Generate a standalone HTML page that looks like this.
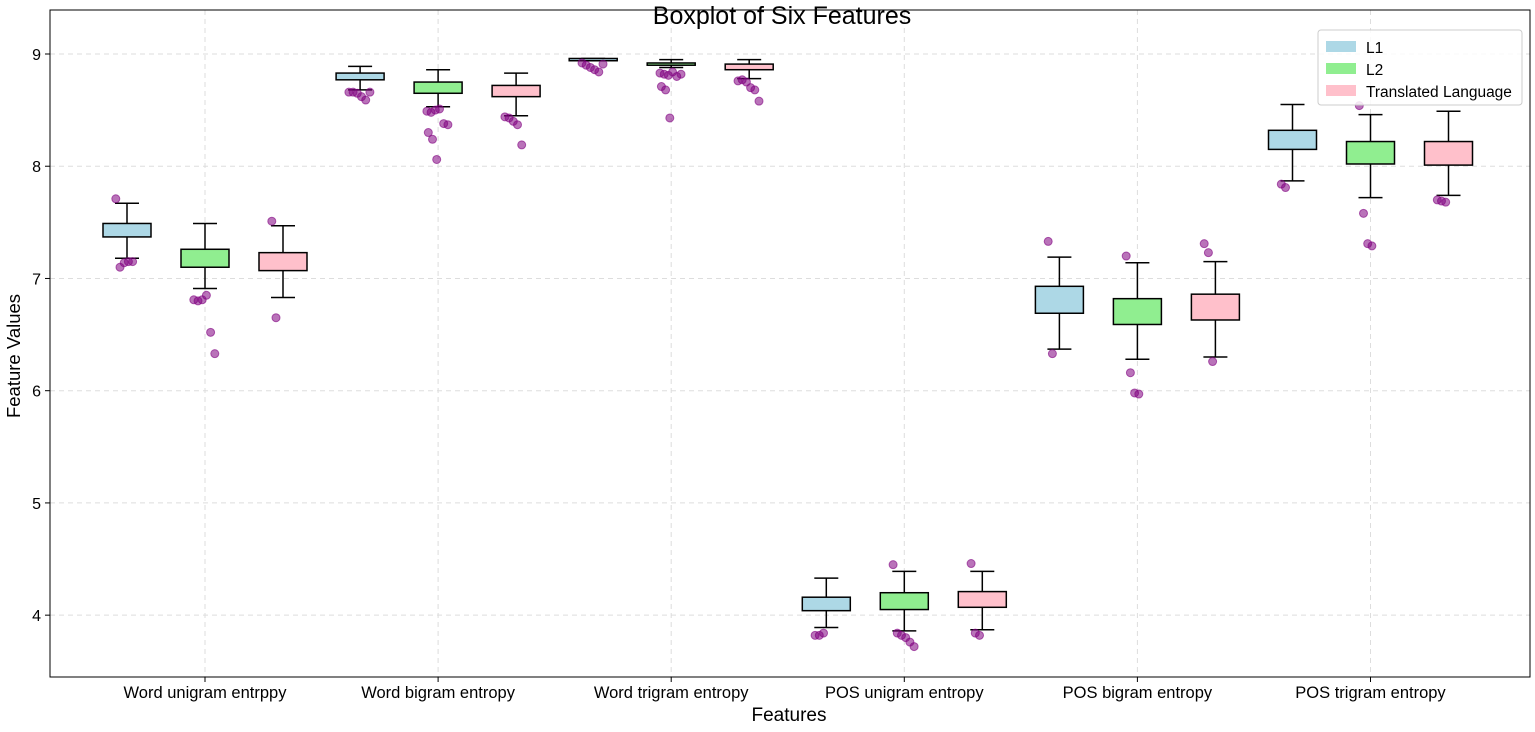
<!DOCTYPE html>
<html><head><meta charset="utf-8"><style>
body{margin:0;background:#fff;font-family:"Liberation Sans",sans-serif}
svg text{font-family:"Liberation Sans",sans-serif;fill:#000}
</style></head><body>
<svg id="c" width="1535" height="727"></svg>
<script>
const categories=["Word unigram entrppy","Word bigram entropy","Word trigram entropy","POS unigram entropy","POS bigram entropy","POS trigram entropy"];
const groups=["L1","L2","Translated Language"];
const groupColors=["#add8e6","#90ee90","#ffc0cb"];
const yTicks=[4,5,6,7,8,9];
// [lowWhisker,q1,q3,highWhisker] per category per group
const statsL1=[[7.18,7.37,7.49,7.67],[8.68,8.77,8.83,8.89],[8.94,8.94,8.96,8.96],[3.89,4.04,4.16,4.33],[6.37,6.69,6.93,7.19],[7.87,8.15,8.32,8.55]];
const statsL2=[[6.91,7.10,7.26,7.49],[8.53,8.65,8.75,8.86],[8.88,8.90,8.92,8.95],[3.86,4.05,4.20,4.39],[6.28,6.59,6.82,7.14],[7.72,8.02,8.22,8.46]];
const statsTL=[[6.83,7.07,7.23,7.47],[8.45,8.62,8.72,8.83],[8.78,8.86,8.91,8.95],[3.87,4.07,4.21,4.39],[6.30,6.63,6.86,7.15],[7.74,8.01,8.22,8.49]];
const outL1=[[7.71,7.10,7.14,7.15,7.15],[8.66,8.66,8.65,8.62,8.59,8.66],[8.92,8.90,8.88,8.86,8.84,8.91],[3.82,3.82,3.84],[7.33,6.33],[7.84,7.81]];
const outL2=[[6.81,6.80,6.81,6.85,6.52,6.33],[8.49,8.48,8.50,8.51,8.38,8.37,8.30,8.24,8.06],[8.83,8.82,8.81,8.84,8.80,8.82,8.71,8.68,8.43],[4.45,3.84,3.82,3.80,3.76,3.72],[7.20,6.16,5.98,5.97],[8.54,7.58,7.31,7.29]];
const outTL=[[7.51,6.65],[8.44,8.43,8.40,8.37,8.19],[8.76,8.77,8.75,8.70,8.68,8.58],[4.46,3.84,3.82],[7.31,7.23,6.26],[7.70,7.69,7.68]];
const stats=[statsL1,statsL2,statsTL], outs=[outL1,outL2,outTL];
const X0=50,X1=1530,Y0=10,Y1=677;
const yMin=3.449,yMax=9.392;
const y=v=>Y1-(v-yMin)/(yMax-yMin)*(Y1-Y0);
const xc=i=>205+i*233.1;
const ns="http://www.w3.org/2000/svg",svg=document.getElementById('c');
function el(t,a,p){const e=document.createElementNS(ns,t);for(const k in a)e.setAttribute(k,a[k]);(p||svg).appendChild(e);return e;}
yTicks.forEach(t=>{const g=el('line',{x1:X0,x2:X1,y1:y(t),y2:y(t),stroke:'#ddd','stroke-dasharray':'5,4'});

});
categories.forEach((c,i)=>{const g=el('line',{x1:xc(i),x2:xc(i),y1:Y0,y2:Y1,stroke:'#ddd','stroke-dasharray':'5,4'});

});
const off=[-78,0,78],bw=48;
categories.forEach((c,i)=>{groups.forEach((g,j)=>{
 const s=stats[j][i],cx=xc(i)+off[j];
 const grp=el('g',{});
 
 
 el('line',{x1:cx,x2:cx,y1:y(s[3]),y2:y(s[2]),stroke:'#000','stroke-width':1.5},grp);
 el('line',{x1:cx,x2:cx,y1:y(s[1]),y2:y(s[0]),stroke:'#000','stroke-width':1.5},grp);
 el('line',{x1:cx-12,x2:cx+12,y1:y(s[3]),y2:y(s[3]),stroke:'#000','stroke-width':1.5},grp);
 el('line',{x1:cx-12,x2:cx+12,y1:y(s[0]),y2:y(s[0]),stroke:'#000','stroke-width':1.5},grp);
 el('rect',{x:cx-bw/2,y:y(s[2]),width:bw,height:Math.max(2,y(s[1])-y(s[2])),fill:groupColors[j],stroke:'#000','stroke-width':1.5},grp);
 outs[j][i].forEach((v,k)=>{const jit=((k*37)%17-8)*1.4;
  const p=el('circle',{cx:cx+jit,cy:y(v),r:4,fill:'#800080','fill-opacity':0.55,stroke:'#800080','stroke-opacity':0.6});
  
  });
});});
const fr=el('rect',{x:X0,y:Y0,width:X1-X0,height:Y1-Y0,fill:'none',stroke:'#000','stroke-width':1});


yTicks.forEach(t=>{el('line',{x1:X0-5,x2:X0,y1:y(t),y2:y(t),stroke:'#000'});
 const tx=el('text',{x:X0-9,y:y(t)+6,'text-anchor':'end','font-size':16});tx.textContent=t;
 
 });
categories.forEach((c,i)=>{el('line',{x1:xc(i),x2:xc(i),y1:Y1,y2:Y1+5,stroke:'#000'});
 const tx=el('text',{x:xc(i),y:Y1+21,'text-anchor':'middle','font-size':16.5});tx.textContent=c;
 
 });
let t=el('text',{x:782,y:24,'text-anchor':'middle','font-size':25});t.textContent='Boxplot of Six Features';


t=el('text',{x:789,y:721,'text-anchor':'middle','font-size':19});t.textContent='Features';


t=el('text',{x:20,y:356,'text-anchor':'middle','font-size':18.5,transform:'rotate(-90 20 356)'});t.textContent='Feature Values';


const lg=el('g',{});


el('rect',{x:1318,y:30,width:204,height:75,rx:3,fill:'#fff','fill-opacity':0.85,stroke:'#ccc'},lg);
groups.forEach((g,j)=>{const e=el('g',{},lg);
 
 
 el('rect',{x:1326,y:41+j*22,width:30,height:11,fill:groupColors[j]},e);
 const tx=el('text',{x:1366,y:53+j*22,'font-size':15.5},e);tx.textContent=g;});
</script>
</body></html>
